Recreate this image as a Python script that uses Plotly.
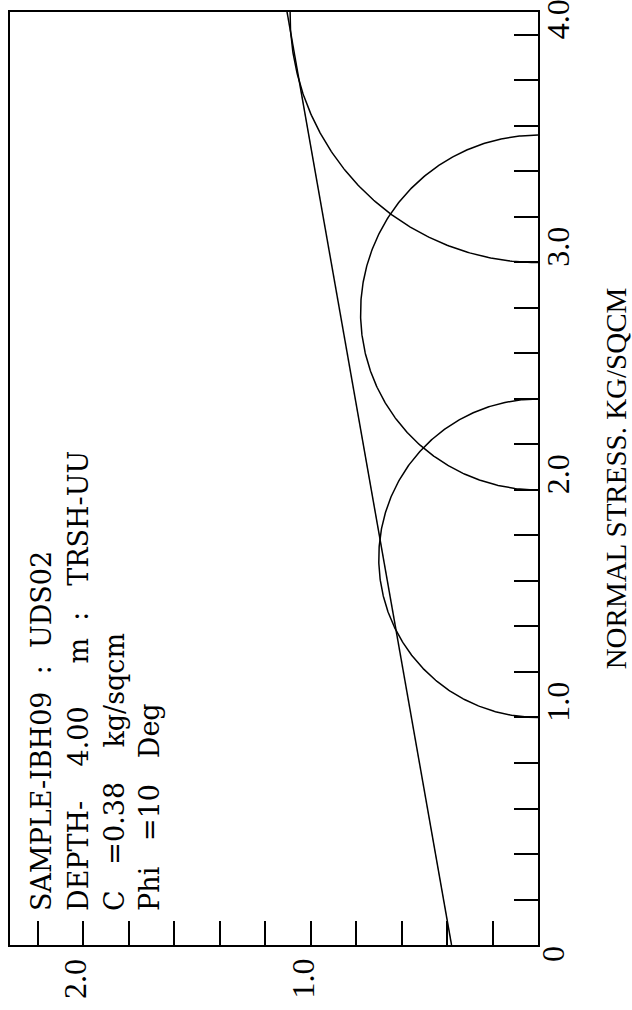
import numpy as np
import plotly.graph_objects as go

# ---- data (Mohr circles, UU triaxial) ----
sigma3 = [1.0, 2.0, 3.0]          # minor principal stress, kg/sqcm
sigma1 = [2.40, 3.56, 5.18]       # major principal stress, kg/sqcm
cohesion = 0.38                    # kg/sqcm
phi_deg = 10                       # degrees

normal_tickvals = [1.0, 2.0, 3.0, 4.0]
normal_ticktext = ["1.0", "2.0", "3.0", "4.0"]
shear_tickvals = [1.0, 2.0]
shear_ticktext = ["1.0", "2.0"]

info_lines = [
    "SAMPLE-IBH09  :  UDS02",
    "DEPTH-    4.00     m  :   TRSH-UU",
    "C   =0.38    kg/sqcm",
    "Phi   =10   Deg",
]
normal_title = "NORMAL STRESS. KG/SQCM"

fig = go.Figure()

theta = np.linspace(0, np.pi, 361)
for s3, s1 in zip(sigma3, sigma1):
    c = (s1 + s3) / 2
    r = (s1 - s3) / 2
    fig.add_trace(go.Scatter(
        x=r * np.sin(theta), y=c + r * np.cos(theta),
        mode="lines", line=dict(color="black", width=1.5),
        hoverinfo="skip"))

sig = np.array([0.0, 6.0])
tau = cohesion + sig * np.tan(np.radians(phi_deg))
fig.add_trace(go.Scatter(x=tau, y=sig, mode="lines",
                         line=dict(color="black", width=1.5), hoverinfo="skip"))

tick_font = dict(family="Liberation Serif", size=32, color="black")
info_font = dict(family="DejaVu Serif", size=27, color="black")

fig.update_layout(
    width=632, height=1010,
    margin=dict(l=10, r=94, t=12, b=65, autoexpand=False),
    plot_bgcolor="white", paper_bgcolor="white",
    showlegend=False,
    xaxis=dict(
        range=[2.321, 0], showgrid=False, zeroline=False, automargin=False,
        showline=True, mirror=True, linecolor="black", linewidth=2,
        ticks="inside", ticklen=24, tickwidth=1.5, tickcolor="black",
        tickmode="array", tickvals=shear_tickvals, ticktext=shear_ticktext,
        showticklabels=False,
        minor=dict(tick0=0, dtick=0.2, ticks="inside", ticklen=24,
                   tickwidth=1.5, tickcolor="black", showgrid=False),
    ),
    yaxis=dict(
        range=[0, 4.101], side="right", showgrid=False, zeroline=False,
        automargin=False,
        showline=True, mirror=True, linecolor="black", linewidth=2,
        ticks="inside", ticklen=24, tickwidth=1.5, tickcolor="black",
        tickmode="array", tickvals=normal_tickvals, ticktext=normal_ticktext,
        tickangle=-90, tickfont=tick_font, ticklabelshift=-11,
        ticklabelstandoff=-9, ticklabeloverflow="allow",
        minor=dict(tick0=0, dtick=0.2, ticks="inside", ticklen=24,
                   tickwidth=1.5, tickcolor="black", showgrid=False),
        title=dict(text=normal_title, font=dict(family="Liberation Serif", size=29, color="black"),
                   standoff=35),
    ),
)

# shear-axis tick labels (rotated, baseline on the tick)
for v, t in zip(shear_tickvals, shear_ticktext):
    fig.add_annotation(text=t, x=v, xref="x", y=0, yref="paper",
                       xanchor="right", yanchor="top", xshift=12, yshift=-12,
                       textangle=-90, showarrow=False, font=tick_font)

# origin label
fig.add_annotation(text="0", x=1.0, xref="paper", y=0, yref="y",
                   xanchor="left", yanchor="middle", xshift=-5, yshift=-9,
                   textangle=-90, showarrow=False, font=tick_font)

xpos = [0.0606, 0.1307, 0.199, 0.265]
for line, xp in zip(info_lines, xpos):
    fig.add_annotation(text=line.replace(" ", "&nbsp;"), x=xp, xref="paper",
                       y=0.0343, yref="paper", xanchor="center", yanchor="bottom",
                       textangle=-90, showarrow=False, font=info_font)

fig.write_html("out.html")
